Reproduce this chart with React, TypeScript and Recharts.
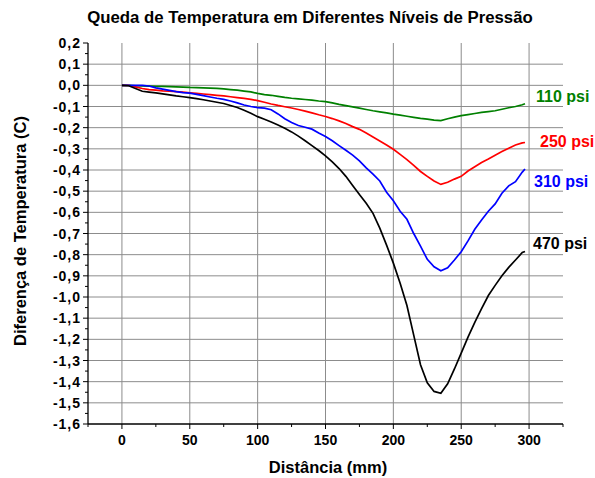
import { LineChart, Line, XAxis, YAxis, CartesianGrid, LabelList } from 'recharts';

// distance along the tube (mm)
const distancia = [
  0, 5, 10, 15, 20, 25, 30, 35, 40, 45, 50, 55, 60, 65, 70, 75, 80, 85, 90, 95,
  100, 105, 110, 115, 120, 125, 130, 135, 140, 145, 150, 155, 160, 165, 170, 175, 180, 185, 190, 195,
  200, 205, 210, 215, 220, 225, 230, 235, 240, 245, 250, 255, 260, 265, 270, 275, 280, 285, 290, 295, 297,
];

const psi110 = [
  0, 0, -0.002, -0.003, -0.004, -0.005, -0.005, -0.006, -0.007, -0.008, -0.01, -0.011, -0.012, -0.013, -0.014, -0.017, -0.02, -0.023, -0.027, -0.031,
  -0.038, -0.044, -0.047, -0.052, -0.057, -0.061, -0.064, -0.067, -0.07, -0.074, -0.077, -0.083, -0.09, -0.096, -0.102, -0.108, -0.114, -0.12, -0.125, -0.13,
  -0.136, -0.141, -0.146, -0.151, -0.156, -0.16, -0.164, -0.167, -0.158, -0.15, -0.143, -0.138, -0.133, -0.128, -0.124, -0.12, -0.113, -0.106, -0.1, -0.092, -0.087,
];

const psi250 = [
  0, 0, -0.007, -0.015, -0.02, -0.023, -0.026, -0.028, -0.03, -0.032, -0.035, -0.038, -0.041, -0.044, -0.047, -0.05, -0.054, -0.058, -0.062, -0.066,
  -0.072, -0.08, -0.088, -0.095, -0.101, -0.107, -0.114, -0.122, -0.13, -0.139, -0.147, -0.157, -0.168, -0.18, -0.195, -0.208, -0.225, -0.244, -0.263, -0.282,
  -0.302, -0.326, -0.351, -0.378, -0.407, -0.43, -0.452, -0.468, -0.458, -0.443, -0.43, -0.405, -0.385, -0.365, -0.348, -0.33, -0.313, -0.297, -0.282, -0.272, -0.27,
];

const psi310 = [
  0, 0, 0, 0, -0.003, -0.012, -0.018, -0.024, -0.03, -0.034, -0.037, -0.043, -0.049, -0.055, -0.061, -0.066, -0.074, -0.083, -0.093, -0.1,
  -0.105, -0.108, -0.115, -0.135, -0.158, -0.176, -0.19, -0.198, -0.207, -0.225, -0.242, -0.262, -0.285, -0.307, -0.33, -0.357, -0.39, -0.42, -0.452, -0.505,
  -0.545, -0.595, -0.633, -0.7, -0.76, -0.822, -0.857, -0.876, -0.862, -0.825, -0.786, -0.735, -0.68, -0.636, -0.595, -0.56, -0.51, -0.475, -0.455, -0.41, -0.395,
];

const psi470 = [
  0, -0.002, -0.015, -0.028, -0.032, -0.036, -0.04, -0.045, -0.05, -0.054, -0.058, -0.063, -0.068, -0.074, -0.08, -0.086, -0.095, -0.105, -0.118, -0.132,
  -0.148, -0.16, -0.173, -0.187, -0.203, -0.22, -0.24, -0.262, -0.285, -0.308, -0.333, -0.362, -0.393, -0.43, -0.473, -0.516, -0.557, -0.605, -0.675, -0.755,
  -0.84, -0.935, -1.04, -1.18, -1.32, -1.405, -1.446, -1.455, -1.41, -1.34, -1.265, -1.19, -1.12, -1.055, -0.993, -0.945, -0.9, -0.86, -0.825, -0.79, -0.785,
];

const xTicks = [0, 50, 100, 150, 200, 250, 300];
const xMinorTicks = [-25, 25, 75, 125, 175, 225, 275, 325];
const yTicks = [
  -1.6, -1.5, -1.4, -1.3, -1.2, -1.1, -1.0, -0.9, -0.8, -0.7, -0.6, -0.5, -0.4, -0.3, -0.2, -0.1, 0, 0.1, 0.2,
];
const yMinorTicks = [
  -1.55, -1.45, -1.35, -1.25, -1.15, -1.05, -0.95, -0.85, -0.75, -0.65, -0.55, -0.45, -0.35, -0.25, -0.15, -0.05, 0.05, 0.15,
];

const data = distancia.map((d, i) => ({
  d,
  p110: psi110[i],
  p250: psi250[i],
  p310: psi310[i],
  p470: psi470[i],
}));

const series = [
  { key: 'p110', name: '110 psi', color: '#008000', dx: 11, dy: -7 },
  { key: 'p250', name: '250 psi', color: '#ff0000', dx: 15, dy: -1 },
  { key: 'p310', name: '310 psi', color: '#0000ff', dx: 9, dy: 13 },
  { key: 'p470', name: '470 psi', color: '#000000', dx: 8, dy: -8 },
];

const FONT = '"Liberation Sans", Arial, sans-serif';
const fmt = (v: number) => v.toFixed(1).replace('.', ',');

const isMajor = (list: number[], v: number) => list.some(t => Math.abs(t - v) < 1e-6);

// tick mark + label drawn by hand so that minor ticks are shorter and unlabeled
function XTick(props: any) {
  const { x, y, payload } = props;
  const major = isMajor(xTicks, payload.value);
  return (
    <g>
      <line x1={x} x2={x} y1={y} y2={y + (major ? 5 : 3)} stroke="#000" strokeWidth={1} />
      {major && (
        <text x={x} y={y + 21} textAnchor="middle" fontSize={14} fontWeight="bold" fontFamily={FONT} fill="#000">
          {payload.value}
        </text>
      )}
    </g>
  );
}

function YTick(props: any) {
  const { x, y, payload } = props;
  const major = isMajor(yTicks, payload.value);
  return (
    <g>
      <line x1={x - (major ? 5 : 3)} x2={x} y1={y} y2={y} stroke="#000" strokeWidth={1} />
      {major && (
        <text
          x={x - 7}
          y={y}
          textAnchor="end"
          dominantBaseline="central"
          fontSize={14}
          fontWeight="bold"
          fontFamily={FONT}
          letterSpacing={1}
          fill="#000"
        >
          {fmt(payload.value)}
        </text>
      )}
    </g>
  );
}

const endLabel = (text: string, color: string, dx: number, dy: number) => (props: any) => {
  if (props.index !== distancia.length - 1) return null;
  return (
    <text
      x={Number(props.x) + dx}
      y={Number(props.y) + dy}
      fill={color}
      fontSize={16}
      fontWeight="bold"
      fontFamily={FONT}
      dominantBaseline="central"
    >
      {text}
    </text>
  );
};

export default function App() {
  return (
    <div style={{ position: 'absolute', left: 0, top: 0, width: 595, height: 478, background: '#fff' }}>
      <LineChart width={595} height={478} data={data} margin={{ top: 43, right: 32, bottom: 24, left: 0 }}>
        <CartesianGrid
          stroke="#8c8c8c"
          strokeWidth={1}
          verticalValues={xTicks}
          horizontalValues={yTicks.filter(t => t !== 0.2 && t !== -1.6)}
        />
        <XAxis
          dataKey="d"
          type="number"
          domain={[-25, 325]}
          ticks={[...xMinorTicks, ...xTicks].sort((a, b) => a - b)}
          interval={0}
          height={30}
          tickSize={0}
          tickMargin={0}
          tickLine={false}
          tick={<XTick />}
          axisLine={{ stroke: '#000', strokeWidth: 1.3 }}
        />
        <YAxis
          type="number"
          domain={[-1.6, 0.2]}
          ticks={[...yMinorTicks, ...yTicks].sort((a, b) => a - b)}
          interval={0}
          width={88}
          tickSize={0}
          tickMargin={0}
          tickLine={false}
          tick={<YTick />}
          axisLine={{ stroke: '#000', strokeWidth: 1.3 }}
        />
        {series.map(s => (
          <Line
            key={s.key}
            type="linear"
            dataKey={s.key}
            stroke={s.color}
            strokeWidth={1.7}
            dot={false}
            isAnimationActive={false}
          >
            <LabelList dataKey={s.key} content={endLabel(s.name, s.color, s.dx, s.dy)} />
          </Line>
        ))}
      </LineChart>
      <svg width={595} height={478} style={{ position: 'absolute', left: 0, top: 0, pointerEvents: 'none' }}>
        <text x={310} y={23} textAnchor="middle" fontSize={16.8} fontWeight="bold" fontFamily={FONT}>
          Queda de Temperatura em Diferentes Níveis de Pressão
        </text>
        <text x={328} y={473} textAnchor="middle" fontSize={16.5} fontWeight="bold" fontFamily={FONT}>
          Distância (mm)
        </text>
        <text
          x={0}
          y={0}
          transform="translate(26 231) rotate(-90)"
          textAnchor="middle"
          fontSize={16.5}
          fontWeight="bold"
          fontFamily={FONT}
        >
          Diferença de Temperatura (C)
        </text>
      </svg>
    </div>
  );
}
